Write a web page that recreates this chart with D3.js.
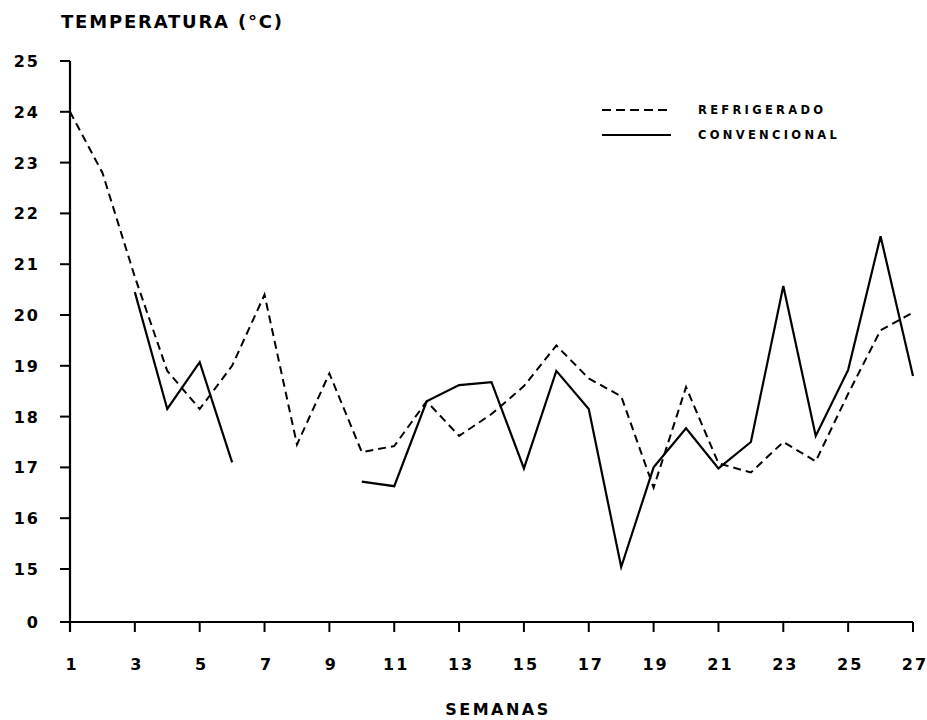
<!DOCTYPE html>
<html>
<head>
<meta charset="utf-8">
<script src="https://cdn.jsdelivr.net/npm/d3@7"></script>
<style>
  body { margin: 0; background: #fff; }
  text { font-family: "DejaVu Sans", sans-serif; font-weight: bold; fill: #000; }
</style>
</head>
<body>
<div id="chart"></div>
<script>
(function () {

	var width = 927, height = 720;

	// semanas 1..27
	var weeks = d3.range(1, 28);
	var xTicks = [1, 3, 5, 7, 9, 11, 13, 15, 17, 19, 21, 23, 25, 27];
	var yTicks = [0, 15, 16, 17, 18, 19, 20, 21, 22, 23, 24, 25];

	var refrigerado = [24.0, 22.8, 20.75, 18.9, 18.15, 19.0, 20.4, 17.45, 18.85, 17.3, 17.42, 18.3, 17.62, 18.05,
		18.6, 19.4, 18.75, 18.4, 16.6, 18.58, 17.08, 16.9, 17.5, 17.12, 18.45, 19.7, 20.05];
	// null = sem dado
	var convencional = [null, null, 20.45, 18.15, 19.07, 17.1, null, null, null, 16.72, 16.63, 18.3, 18.62, 18.68,
		16.98, 18.9, 18.15, 15.04, 17.0, 17.77, 16.98, 17.5, 20.57, 17.62, 18.92, 21.55, 18.8];

	var svg = d3.select("#chart")
		.append("svg")
		.attr("width", width)
		.attr("height", height);

	var x = d3.scaleLinear()
		.domain([1, 27])
		.range([70, 913]);

	// eixo quebrado entre 0 e 15
	var y = d3.scaleLinear()
		.domain([0, 15, 25])
		.range([622, 569, 61]);

	// y axis
	svg.append("line")
		.attr("x1", 70).attr("x2", 70)
		.attr("y1", y(25)).attr("y2", y(0) + 10)
		.attr("stroke", "#000").attr("stroke-width", 2.2);

	svg.selectAll(".ytick")
		.data(yTicks)
		.enter().append("line")
		.attr("class", "ytick")
		.attr("x1", 60).attr("x2", 70)
		.attr("y1", function(d){ return y(d) })
		.attr("y2", function(d){ return y(d) })
		.attr("stroke", "#000").attr("stroke-width", 2);

	svg.selectAll(".ylabel")
		.data(yTicks)
		.enter().append("text")
		.attr("class", "ylabel")
		.attr("x", 40)
		.attr("y", function(d){ return y(d) + 6 })
		.attr("text-anchor", "end")
		.style("font-size", "16px")
		.style("letter-spacing", "2px")
		.text(function(d){ return d });

	// x axis
	svg.append("line")
		.attr("x1", 60).attr("x2", x(27))
		.attr("y1", y(0)).attr("y2", y(0))
		.attr("stroke", "#000").attr("stroke-width", 2.2);

	svg.selectAll(".xtick")
		.data(xTicks)
		.enter().append("line")
		.attr("class", "xtick")
		.attr("x1", function(d){ return x(d) })
		.attr("x2", function(d){ return x(d) })
		.attr("y1", y(0)).attr("y2", y(0) + 10)
		.attr("stroke", "#000").attr("stroke-width", 2);

	svg.selectAll(".xlabel")
		.data(xTicks)
		.enter().append("text")
		.attr("class", "xlabel")
		.attr("x", function(d){ return x(d) + 2 })
		.attr("y", 670)
		.attr("text-anchor", "middle")
		.style("font-size", "16px")
		.style("letter-spacing", "2px")
		.text(function(d){ return d });

	// lines
	var line = d3.line()
		.defined(function(d){ return d[1] != null })
		.x(function(d){ return x(d[0]) })
		.y(function(d){ return y(d[1]) });

	svg.append("path")
		.datum(weeks.map(function(w, i){ return [w, refrigerado[i]] }))
		.attr("d", line)
		.attr("fill", "none")
		.attr("stroke", "#000")
		.attr("stroke-width", 2)
		.attr("stroke-dasharray", "8,5");

	svg.append("path")
		.datum(weeks.map(function(w, i){ return [w, convencional[i]] }))
		.attr("d", line)
		.attr("fill", "none")
		.attr("stroke", "#000")
		.attr("stroke-width", 2.2);

	// titles
	svg.append("text")
		.attr("x", 61).attr("y", 28)
		.style("font-size", "18px")
		.style("letter-spacing", "1.8px")
		.text("TEMPERATURA (°C)");

	svg.append("text")
		.attr("x", 498).attr("y", 715)
		.attr("text-anchor", "middle")
		.style("font-size", "16px")
		.style("letter-spacing", "2.5px")
		.text("SEMANAS");

	// legend
	var legend = [
		{label: "REFRIGERADO", dash: "9,5", y: 110},
		{label: "CONVENCIONAL", dash: null, y: 135}
	];

	svg.selectAll(".leg-line")
		.data(legend)
		.enter().append("line")
		.attr("class", "leg-line")
		.attr("x1", 602).attr("x2", 671)
		.attr("y1", function(d){ return d.y })
		.attr("y2", function(d){ return d.y })
		.attr("stroke", "#000")
		.attr("stroke-width", 1.8)
		.attr("stroke-dasharray", function(d){ return d.dash });

	svg.selectAll(".leg-text")
		.data(legend)
		.enter().append("text")
		.attr("class", "leg-text")
		.attr("x", 698)
		.attr("y", function(d){ return d.y + 4 })
		.style("font-size", "11.5px")
		.style("letter-spacing", "3.3px")
		.text(function(d){ return d.label });

})();
</script>
</body>
</html>
